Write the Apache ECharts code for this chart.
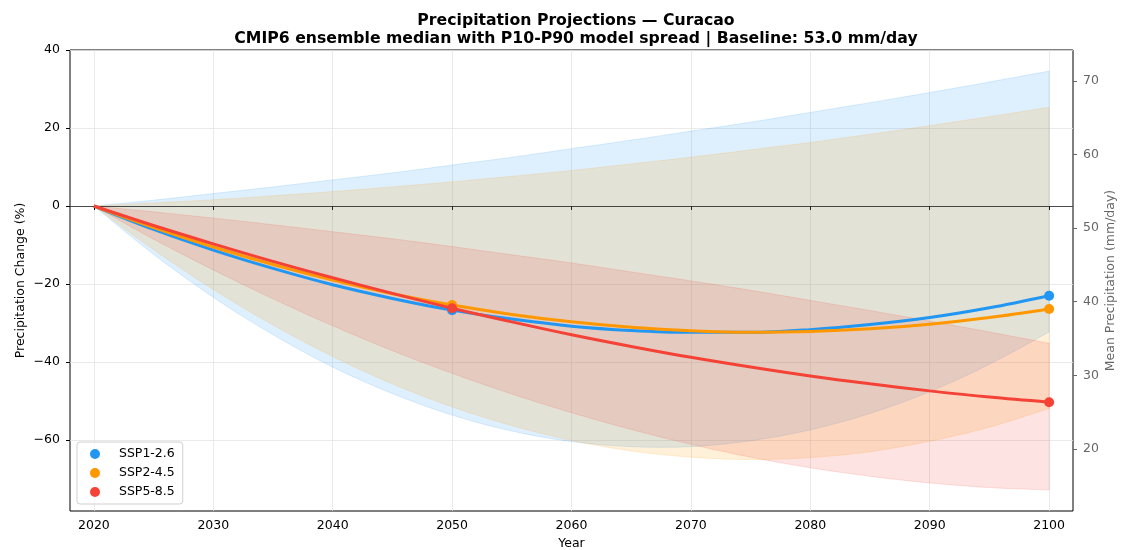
<!DOCTYPE html>
<html>
<head>
<meta charset="utf-8">
<script src="https://cdn.jsdelivr.net/npm/echarts@6/dist/echarts.min.js"></script>
<style>
  html, body { margin: 0; padding: 0; background: #fff; }
  #chart { width: 1121px; height: 550px; }
</style>
</head>
<body>
<div id="chart"></div>
<script>
// Projection years (5-year steps)
const years = [2020, 2025, 2030, 2035, 2040, 2045, 2050, 2055, 2060, 2065, 2070, 2075, 2080, 2085, 2090, 2095, 2100];
const markerYears = [2050, 2100];
const baseline = 53.0; // mm/day

// Ensemble median change (%)
const ssp126Median = [0, -6.0, -11.3, -16.0, -20.2, -23.7, -26.7, -29.0, -30.8, -31.9, -32.4, -32.4, -31.7, -30.4, -28.6, -26.1, -23.0];
const ssp245Median = [0, -5.5, -10.5, -15.0, -19.0, -22.5, -25.4, -27.8, -29.7, -31.1, -32.0, -32.4, -32.2, -31.5, -30.3, -28.6, -26.4];
const ssp585Median = [0, -5.0, -9.7, -14.2, -18.4, -22.4, -26.2, -29.7, -33.0, -36.0, -38.8, -41.3, -43.6, -45.6, -47.4, -49.0, -50.3];

// P10 / P90 model spread (%)
const ssp126P10 = [0, -12.4, -23.4, -33.0, -41.3, -48.1, -53.6, -57.7, -60.4, -61.7, -61.7, -60.2, -57.4, -53.2, -47.6, -40.6, -32.3];
const ssp126P90 = [0, 1.5, 3.2, 4.9, 6.7, 8.5, 10.5, 12.5, 14.7, 16.9, 19.2, 21.5, 24.0, 26.5, 29.1, 31.8, 34.6];
const ssp245P10 = [0, -11.2, -21.4, -30.5, -38.6, -45.6, -51.5, -56.3, -60.1, -62.8, -64.4, -65.0, -64.5, -63.0, -60.3, -56.7, -51.9];
const ssp245P90 = [0, 0.8, 1.6, 2.6, 3.7, 4.9, 6.2, 7.6, 9.1, 10.8, 12.5, 14.4, 16.3, 18.4, 20.6, 22.9, 25.3];
const ssp585P10 = [0, -8.5, -16.4, -23.8, -30.7, -37.1, -42.9, -48.2, -53.0, -57.3, -61.1, -64.4, -67.1, -69.3, -71.0, -72.2, -72.8];
const ssp585P90 = [0, -1.5, -3.1, -4.8, -6.6, -8.4, -10.4, -12.5, -14.6, -16.9, -19.2, -21.6, -24.2, -26.8, -29.5, -32.3, -35.2];

// Axis ticks
const xTicks = [2020, 2030, 2040, 2050, 2060, 2070, 2080, 2090, 2100];
const pctTicks = [-60, -40, -20, 0, 20, 40];
const mmTicks = [20, 30, 40, 50, 60, 70];
const pctMin = -78.2, pctMax = 40;

const scenarios = [
  { name: 'SSP1-2.6', color: '#2196F3', rgb: '33,150,243', median: ssp126Median, lo: ssp126P10, hi: ssp126P90 },
  { name: 'SSP2-4.5', color: '#FF9800', rgb: '255,152,0', median: ssp245Median, lo: ssp245P10, hi: ssp245P90 },
  { name: 'SSP5-8.5', color: '#F44336', rgb: '244,67,54', median: ssp585Median, lo: ssp585P10, hi: ssp585P90 }
];

const FONT = 'DejaVu Sans';

// Smooth pixel outline through projected points (Catmull-Rom as cubic Bezier, sampled)
function smoothOutline(pts, steps) {
  const out = [pts[0]];
  const n = pts.length;
  for (let i = 0; i < n - 1; i++) {
    const p0 = pts[Math.max(i - 1, 0)], p1 = pts[i], p2 = pts[i + 1], p3 = pts[Math.min(i + 2, n - 1)];
    const c1 = [p1[0] + (p2[0] - p0[0]) / 6, p1[1] + (p2[1] - p0[1]) / 6];
    const c2 = [p2[0] - (p3[0] - p1[0]) / 6, p2[1] - (p3[1] - p1[1]) / 6];
    for (let s = 1; s <= steps; s++) {
      const t = s / steps, u = 1 - t;
      const a = u * u * u, b = 3 * u * u * t, c = 3 * u * t * t, d = t * t * t;
      out.push([a * p1[0] + b * c1[0] + c * c2[0] + d * p2[0],
                a * p1[1] + b * c1[1] + c * c2[1] + d * p2[1]]);
    }
  }
  return out;
}

function bandSeries(sc) {
  const fill = 'rgba(' + sc.rgb + ',0.15)';
  return {
    type: 'custom',
    name: sc.name + ' P10-P90',
    silent: true,
    z: 1,
    animation: false,
    data: years.map((y, i) => [y, sc.lo[i], sc.hi[i]]),
    encode: { x: 0, y: [1, 2] },
    renderItem(params, api) {
      if (params.dataIndex !== 0) return null;
      const top = smoothOutline(years.map((y, i) => api.coord([y, sc.hi[i]])), 8);
      const bottom = smoothOutline(years.map((y, i) => api.coord([y, sc.lo[i]])), 8).reverse();
      return {
        type: 'polygon',
        shape: { points: top.concat(bottom) },
        style: { fill: fill, stroke: fill, lineWidth: 1 }
      };
    }
  };
}

function medianSeries(sc, idx) {
  return {
    type: 'line',
    name: sc.name,
    z: 3 + idx,
    animation: false,
    smooth: 0.35,
    data: years.map((y, i) => [y, sc.median[i]]),
    symbol: 'circle',
    showAllSymbol: true,
    symbolSize: (v) => markerYears.includes(v[0]) ? 10 : 0,
    lineStyle: { width: 3, color: sc.color },
    itemStyle: { color: sc.color }
  };
}

const series = scenarios.map(bandSeries);
const medians = scenarios.map((sc, i) => medianSeries(sc, i));
// zero reference line
medians[0].markLine = {
  silent: true,
  symbol: 'none',
  label: { show: false },
  lineStyle: { color: '#222', width: 0.8, type: 'solid' },
  data: [{ yAxis: 0 }]
};
series.push(...medians);

const chart = echarts.init(document.getElementById('chart'), null, { renderer: 'canvas' });
chart.setOption({
  animation: false,
  backgroundColor: '#fff',
  textStyle: { fontFamily: FONT },
  title: {
    text: 'Precipitation Projections — Curacao\nCMIP6 ensemble median with P10-P90 model spread | Baseline: 53.0 mm/day',
    left: 571,
    top: 7,
    textAlign: 'center',
    textStyle: { fontFamily: FONT, fontSize: 15.7, fontWeight: 'bold', color: '#000', lineHeight: 18 }
  },
  legend: {
    data: scenarios.map(s => s.name),
    orient: 'vertical',
    left: 77,
    top: 442,
    icon: 'circle',
    itemWidth: 22,
    itemHeight: 10,
    itemGap: 5,
    padding: [5, 8, 5, 13],
    backgroundColor: 'rgba(255,255,255,0.8)',
    borderColor: '#d0d0d0',
    borderWidth: 1,
    borderRadius: 3,
    textStyle: { fontFamily: FONT, fontSize: 12.5, color: '#000', lineHeight: 14, padding: [0, 0, 0, 8] }
  },
  grid: {
    left: 70, right: 48, top: 50, bottom: 39,
    outerBoundsMode: 'none',
    containLabel: false,
    show: true, borderColor: '#000', borderWidth: 1, backgroundColor: 'transparent'
  },
  xAxis: {
    type: 'value',
    min: 2018, max: 2102,
    name: 'Year',
    nameLocation: 'middle',
    nameGap: 26,
    nameMoveOverlap: false,
    nameTextStyle: { fontFamily: FONT, fontSize: 12.5, color: '#000' },
    axisLine: { show: false },
    axisTick: { show: true, length: 4, customValues: xTicks, lineStyle: { color: '#000' } },
    axisLabel: { customValues: xTicks, fontFamily: FONT, fontSize: 12.5, color: '#000', margin: 8,
      formatter: v => String(v) },
    splitLine: { show: true, lineStyle: { color: '#e4e4e4', width: 0.8 } }
  },
  yAxis: [
    {
      type: 'value',
      min: pctMin, max: pctMax,
      name: 'Precipitation Change (%)',
      nameLocation: 'middle',
      nameGap: 43,
      nameMoveOverlap: false,
      nameTextStyle: { fontFamily: FONT, fontSize: 12.5, color: '#000' },
      axisLine: { show: false },
      axisTick: { show: true, length: 4, customValues: pctTicks, lineStyle: { color: '#000' } },
      axisLabel: { customValues: pctTicks, fontFamily: FONT, fontSize: 12.5, color: '#000', margin: 10,
        formatter: v => (v < 0 ? '\u2212' + Math.abs(v) : String(v)) },
      splitLine: { show: true, lineStyle: { color: '#e4e4e4', width: 0.8 } }
    },
    {
      type: 'value',
      position: 'right',
      min: baseline * (1 + pctMin / 100),
      max: baseline * (1 + pctMax / 100),
      name: 'Mean Precipitation (mm/day)',
      nameLocation: 'middle',
      nameGap: 31,
      nameRotate: 90,
      nameMoveOverlap: false,
      nameTextStyle: { fontFamily: FONT, fontSize: 12.5, color: '#666' },
      axisLine: { show: false },
      axisTick: { show: true, length: 4, customValues: mmTicks, lineStyle: { color: '#666' } },
      axisLabel: { customValues: mmTicks, fontFamily: FONT, fontSize: 12.5, color: '#666', margin: 10 },
      splitLine: { show: false }
    }
  ],
  series: series
});
</script>
</body>
</html>
